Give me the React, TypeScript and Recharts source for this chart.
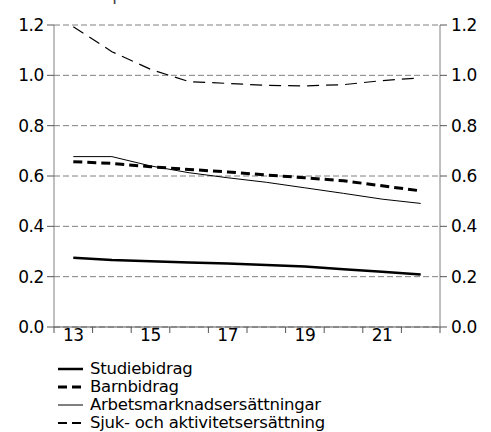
import React from "react";
import { LineChart, Line, XAxis, YAxis, CartesianGrid } from "recharts";

const years = [13, 14, 15, 16, 17, 18, 19, 20, 21, 22];
const studiebidrag = [0.275, 0.266, 0.261, 0.256, 0.252, 0.246, 0.24, 0.229, 0.22, 0.209];
const barnbidrag = [0.657, 0.65, 0.637, 0.626, 0.616, 0.604, 0.593, 0.581, 0.561, 0.541];
const arbetsmarknad = [0.677, 0.677, 0.64, 0.613, 0.593, 0.575, 0.553, 0.531, 0.508, 0.491];
const sjuk = [1.193, 1.094, 1.024, 0.975, 0.968, 0.96, 0.958, 0.963, 0.979, 0.99];

const yTicks = [0, 0.2, 0.4, 0.6, 0.8, 1.0, 1.2];
const xLabelTicks = [13, 15, 17, 19, 21];
const xBoundTicks = [12.5, 13.5, 14.5, 15.5, 16.5, 17.5, 18.5, 19.5, 20.5, 21.5, 22.5];

const title = "Procent av potentiell BNP";
const font = "'DejaVu Sans', Verdana, sans-serif";

const data = years.map((y, i) => ({
  year: y,
  studiebidrag: studiebidrag[i],
  barnbidrag: barnbidrag[i],
  arbetsmarknad: arbetsmarknad[i],
  sjuk: sjuk[i],
}));

const legendItems = [
  { name: "Studiebidrag", width: 2.5, dash: undefined },
  { name: "Barnbidrag", width: 3, dash: "9 5" },
  { name: "Arbetsmarknadsersättningar", width: 1, dash: undefined },
  { name: "Sjuk- och aktivitetsersättning", width: 2, dash: "9 5" },
];

const axisColor = "#808080";
const tickStyle = { fill: "#000", fontSize: 17, fontFamily: font, letterSpacing: -0.4 };

export default function App() {
  return (
    <div
      style={{
        position: "absolute",
        left: 0,
        top: 0,
        width: 491,
        height: 432,
        overflow: "hidden",
        background: "#fff",
        fontFamily: font,
      }}
    >
      <div style={{ position: "absolute", left: 20, top: -15, fontSize: 17, color: "#444", lineHeight: "18px", letterSpacing: -0.3 }}>
        {title}
      </div>
      <LineChart width={491} height={432} data={data} margin={{ top: 25, right: 0, left: 0, bottom: 75 }}>
        <CartesianGrid
          xAxisId="b"
          yAxisId="left"
          vertical={false}
          stroke={axisColor}
          strokeDasharray="6 3"
        />
        <XAxis
          xAxisId="b"
          dataKey="year"
          type="number"
          domain={[12.5, 22.5]}
          ticks={xBoundTicks}
          tickFormatter={() => ""}
          tickSize={6}
          height={1}
          axisLine={{ stroke: "#555" }}
          tickLine={{ stroke: "#555" }}
        />
        <XAxis
          xAxisId="l"
          dataKey="year"
          type="number"
          domain={[12.5, 22.5]}
          ticks={xLabelTicks}
          tickLine={false}
          axisLine={false}
          tickSize={0}
          tickMargin={1}
          height={29}
          tick={tickStyle}
        />
        <YAxis
          yAxisId="left"
          domain={[0, 1.2]}
          ticks={yTicks}
          tickFormatter={(v: number) => v.toFixed(1)}
          width={54}
          tickSize={7}
          tickMargin={3}
          axisLine={{ stroke: axisColor }}
          tickLine={{ stroke: "#555" }}
          tick={tickStyle}
        />
        <YAxis
          yAxisId="right"
          orientation="right"
          domain={[0, 1.2]}
          ticks={yTicks}
          tickFormatter={(v: number) => v.toFixed(1)}
          width={51}
          tickSize={7}
          tickMargin={4}
          axisLine={{ stroke: axisColor }}
          tickLine={{ stroke: "#555" }}
          tick={tickStyle}
        />
        <Line xAxisId="b" yAxisId="left" dataKey="studiebidrag" stroke="#000" strokeWidth={2.5} dot={false} isAnimationActive={false} />
        <Line xAxisId="b" yAxisId="left" dataKey="barnbidrag" stroke="#000" strokeWidth={3} strokeDasharray="9 5" dot={false} isAnimationActive={false} />
        <Line xAxisId="b" yAxisId="left" dataKey="arbetsmarknad" stroke="#000" strokeWidth={1} dot={false} isAnimationActive={false} />
        <Line xAxisId="b" yAxisId="left" dataKey="sjuk" stroke="#000" strokeWidth={1.2} strokeDasharray="12 7" dot={false} isAnimationActive={false} />
        {/* same series on the right axis so it gets a scale; not drawn */}
        <Line xAxisId="b" yAxisId="right" dataKey="sjuk" stroke="none" dot={false} activeDot={false} isAnimationActive={false} />
      </LineChart>
      <div style={{ position: "absolute", left: 58, top: 360, fontSize: 16.5, lineHeight: "18px", color: "#000", letterSpacing: -0.25 }}>
        {legendItems.map((it) => (
          <div key={it.name} style={{ display: "flex", alignItems: "center", height: 18 }}>
            <svg width={32} height={18} style={{ flex: "none" }}>
              <line x1={0} x2={25} y1={9} y2={9} stroke="#000" strokeWidth={it.width} strokeDasharray={it.dash} />
            </svg>
            <span style={{ whiteSpace: "nowrap" }}>{it.name}</span>
          </div>
        ))}
      </div>
    </div>
  );
}
